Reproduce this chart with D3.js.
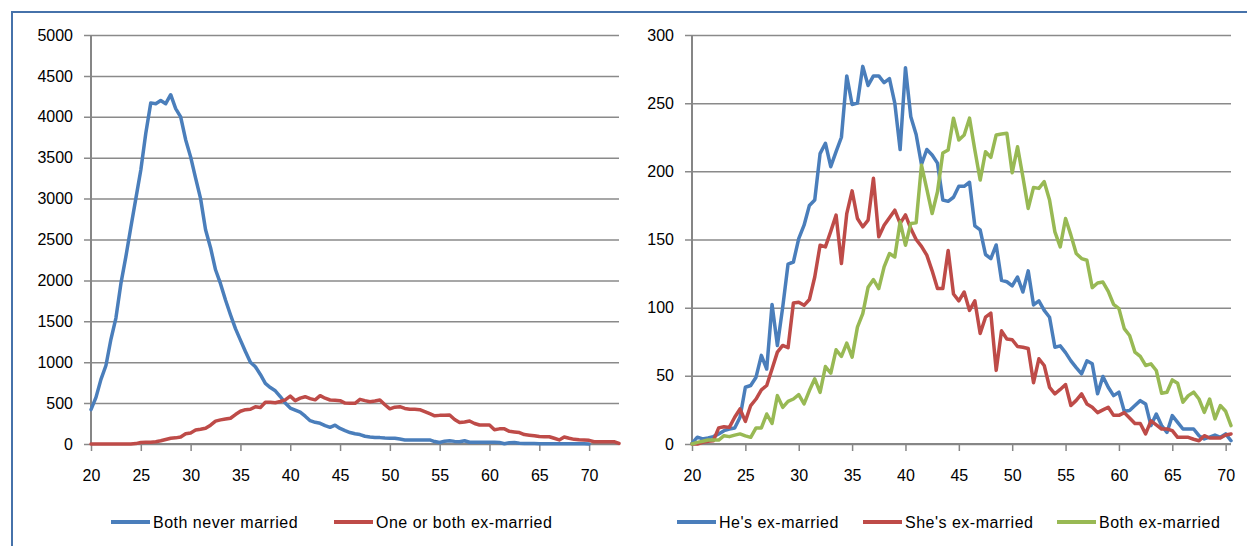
<!DOCTYPE html>
<html>
<head>
<meta charset="utf-8">
<script src="https://cdn.jsdelivr.net/npm/d3@7/dist/d3.min.js"></script>
<style>
  html, body { margin: 0; padding: 0; background: #fff; }
  svg { display: block; }
  text { font-family: "Liberation Sans", Arial, sans-serif; fill: #000; }
</style>
</head>
<body>
<svg id="chart" width="1247" height="546"></svg>
<script>
// ---------- DATA ----------
const leftAges = [20,20.5,21,21.5,22,22.5,23,23.5,24,24.5,25,25.5,26,26.5,27,27.5,28,28.5,29,29.5,30,30.5,31,31.5,32,32.5,33,33.5,34,34.5,35,35.5,36,36.5,37,37.5,38,38.5,39,39.5,40,40.5,41,41.5,42,42.5,43,43.5,44,44.5,45,45.5,46,46.5,47,47.5,48,48.5,49,49.5,50,50.5,51,51.5,52,52.5,53,53.5,54,54.5,55,55.5,56,56.5,57,57.5,58,58.5,59,59.5,60,60.5,61,61.5,62,62.5,63,63.5,64,64.5,65,65.5,66,66.5,67,67.5,68,68.5,69,69.5,70,70.5,71,71.5,72,72.5,73];

const bothNeverMarried = [
  420,570,790,960,1280,1540,1960,2290,2650,3000,
  3350,3800,4170,4160,4200,4160,4270,4100,4000,3720,
  3510,3250,3000,2620,2400,2130,1960,1760,1580,1410,
  1270,1130,1000,945,850,740,690,650,580,500,
  440,415,390,340,285,265,253,225,204,230,
  190,163,140,125,115,95,85,80,78,72,
  70,70,60,50,50,50,50,50,50,30,
  18,35,40,32,28,40,22,20,20,20,
  20,20,18,3,15,18,8,6,5,5,
  4,4,3,3,3,3,2,2,2,2,
  1];

const oneOrBothExMarried = [
  0,0,0,0,0,0,0,0,0,5,
  18,20,22,28,40,55,70,75,85,125,
  135,170,180,192,230,280,295,305,315,360,
  400,420,425,455,445,510,510,505,520,540,
  585,530,560,578,555,540,591,560,538,535,
  530,500,497,497,546,530,517,525,538,480,
  430,450,456,435,424,424,420,395,370,345,
  350,352,355,300,262,270,281,250,232,232,
  232,175,185,185,155,148,140,115,108,102,
  92,89,89,70,50,85,70,57,52,50,
  45,28,28,28,28,28,8];

const rightAges = [20,20.5,21,21.5,22,22.5,23,23.5,24,24.5,25,25.5,26,26.5,27,27.5,28,28.5,29,29.5,30,30.5,31,31.5,32,32.5,33,33.5,34,34.5,35,35.5,36,36.5,37,37.5,38,38.5,39,39.5,40,40.5,41,41.5,42,42.5,43,43.5,44,44.5,45,45.5,46,46.5,47,47.5,48,48.5,49,49.5,50,50.5,51,51.5,52,52.5,53,53.5,54,54.5,55,55.5,56,56.5,57,57.5,58,58.5,59,59.5,60,60.5,61,61.5,62,62.5,63,63.5,64,64.5,65,65.5,66,66.5,67,67.5,68,68.5,69,69.5,70,70.5];

const hesExMarried = [
  0.5,5,3.7,4.5,5.4,7.4,9.8,11,11.8,19.6,
  41.6,42.9,49,65,55,102.4,72.3,100.4,132,133.5,
  150.7,160.5,175,179,213,220.6,203.4,214.4,225,270,
  249,250,277,263,270,270,265,268,250,216,
  276,240,227,205,216,212,206,179,178,181,
  189,189,192,160,157,139,136,146,120,119,
  116,122.5,111.5,127,102,105,98,93,71,72,
  67,61,56,51.5,61,58.8,36.8,49.5,41.6,35.5,
  38,24,24.5,28.2,31.8,29.4,13.5,22,13.5,8.5,
  20.8,15.9,11,11,11,6.1,3.7,5,6.6,4.9,
  7.4,2.4];

const shesExMarried = [
  0,0,1.2,2,2.4,11.8,12.7,12.2,19.6,25.7,
  16.6,28.2,33,39.7,42.9,55,67.4,72.3,70.6,103.4,
  104,101.7,106,122.5,145.8,144.6,156,167.9,132.4,169,
  185.7,165.4,159.3,164.2,194.9,152,160.5,166,171.5,161.8,
  168,158,150,145,138.5,127,114,114,142,110,
  105,111.5,98,105,81,93,96,54,83,77,
  76.5,71.5,71,70,45,62.5,57.6,41.6,36.8,40,
  43.6,28.2,32,36.8,29.4,27,23,25,27,21,
  21,23,19,15,15,7.4,17,14,11,11,
  9.8,4.9,4.9,4.9,3.5,2.4,6.1,4.4,4.4,4.4,
  6.6,7.4];

const bothExMarried = [
  0,1.2,2,2.9,2.9,2.9,6.1,5.4,6.5,7.4,
  6,4.9,11.8,11.8,22,15.1,35.5,26.9,31.3,33,
  36.2,29.4,39.2,47.8,37.9,56.8,51.9,69.1,64.2,74,
  63.7,85.7,95.6,115,120.6,114,129.9,139.7,137.2,163,
  145.8,161.8,162.2,204.6,187,169,185,213.5,215.7,239,
  223,226.7,239,215.7,193.6,214.4,210.3,226.7,227.4,227.9,
  199,218,196,172.8,188.2,187.5,192.4,178.9,155.6,144.6,
  165.4,153.2,139.7,136,134.8,114.7,118.1,118.8,112,102.4,
  99.3,84.6,79.6,67.4,64.2,57.6,58.8,53.9,37.2,38,
  47,44.6,30.6,35.5,38,33,23.2,33,18.4,28.2,
  24,13.5];

const xTickLabels = [20,25,30,35,40,45,50,55,60,65,70];
const leftYTicks = [0,500,1000,1500,2000,2500,3000,3500,4000,4500,5000];
const rightYTicks = [0,50,100,150,200,250,300];

const leftSeriesNames = ["Both never married", "One or both ex-married"];
const rightSeriesNames = ["He's ex-married", "She's ex-married", "Both ex-married"];

// ---------- STYLE ----------
const BLUE = "#4A7EBB", RED = "#BE4B48", GREEN = "#98B954";
const GRID = "#8A8A8A", AXIS = "#868686";
const FONT_SIZE = 16;

const svg = d3.select("#chart");

// outer border (top and left)
svg.append("path")
  .attr("d", "M12,546V12H1247")
  .attr("fill", "none")
  .attr("stroke", "#4672AA")
  .attr("stroke-width", 2);

function panel(cfg) {
  const g = svg.append("g");
  const x = d3.scaleLinear().domain(cfg.xDomain).range([cfg.left, cfg.right]);
  const y = d3.scaleLinear().domain(cfg.yDomain).range([cfg.bottom, cfg.top]);

  // gridlines + y ticks + labels
  const yAxis = d3.axisLeft(y)
    .tickValues(cfg.yTicks)
    .tickSizeInner(-(cfg.right - cfg.left + 7))
    .tickSizeOuter(0)
    .tickPadding(11)
    .tickFormat(d3.format("d"));
  const ya = g.append("g")
    .attr("transform", `translate(${cfg.left - 7},0)`)
    .call(yAxis);
  ya.select(".domain").remove();
  ya.selectAll(".tick line").attr("stroke", GRID).attr("stroke-width", 1.5);
  ya.selectAll(".tick text")
    .style("font-family", '"Liberation Sans", Arial, sans-serif')
    .style("font-size", FONT_SIZE + "px")
    .attr("fill", "#000");

  // y axis line
  g.append("line")
    .attr("x1", cfg.left).attr("x2", cfg.left)
    .attr("y1", cfg.top).attr("y2", cfg.bottom)
    .attr("stroke", AXIS).attr("stroke-width", 2);

  // x axis
  const xAxis = d3.axisBottom(x)
    .tickValues(xTickLabels)
    .tickSizeInner(7)
    .tickSizeOuter(0)
    .tickPadding(19)
    .tickFormat(d3.format("d"));
  const xa = g.append("g")
    .attr("transform", `translate(0,${cfg.bottom})`)
    .call(xAxis);
  xa.select(".domain").remove();
  xa.selectAll(".tick line").attr("stroke", AXIS).attr("stroke-width", 1.5);
  xa.selectAll(".tick text")
    .style("font-family", '"Liberation Sans", Arial, sans-serif')
    .style("font-size", FONT_SIZE + "px")
    .attr("fill", "#000");
  g.append("line")
    .attr("x1", cfg.left).attr("x2", cfg.right)
    .attr("y1", cfg.bottom).attr("y2", cfg.bottom)
    .attr("stroke", AXIS).attr("stroke-width", 2);

  // series
  cfg.series.forEach(s => {
    const line = d3.line()
      .x((d, i) => x(cfg.ages[i]))
      .y(d => y(d));
    g.append("path")
      .datum(s.values)
      .attr("d", line)
      .attr("fill", "none")
      .attr("stroke", s.color)
      .attr("stroke-width", 3.5)
      .attr("stroke-linejoin", "round")
      .attr("stroke-linecap", "round");
  });

  // legend
  const lg = g.append("g");
  cfg.series.forEach((s, i) => {
    const lx = cfg.legendX[i];
    lg.append("line")
      .attr("x1", lx).attr("x2", lx + 39)
      .attr("y1", cfg.legendY).attr("y2", cfg.legendY)
      .attr("stroke", s.color).attr("stroke-width", 4);
    lg.append("text")
      .attr("x", lx + 42)
      .attr("y", cfg.legendY)
      .attr("dy", "0.35em")
      .style("font-size", FONT_SIZE + "px")
      .style("letter-spacing", "0.5px")
      .text(s.name);
  });
}

panel({
  left: 91, right: 619, top: 35, bottom: 444,
  xDomain: [20, 73], yDomain: [0, 5000],
  yTicks: leftYTicks, ages: leftAges,
  legendY: 522, legendX: [111, 334],
  series: [
    { name: leftSeriesNames[0], values: bothNeverMarried, color: BLUE },
    { name: leftSeriesNames[1], values: oneOrBothExMarried, color: RED }
  ]
});

panel({
  left: 692, right: 1231, top: 35, bottom: 444,
  xDomain: [20, 70.5], yDomain: [0, 300],
  yTicks: rightYTicks, ages: rightAges,
  legendY: 522, legendX: [677, 863, 1057],
  series: [
    { name: rightSeriesNames[0], values: hesExMarried, color: BLUE },
    { name: rightSeriesNames[1], values: shesExMarried, color: RED },
    { name: rightSeriesNames[2], values: bothExMarried, color: GREEN }
  ]
});
</script>
</body>
</html>
